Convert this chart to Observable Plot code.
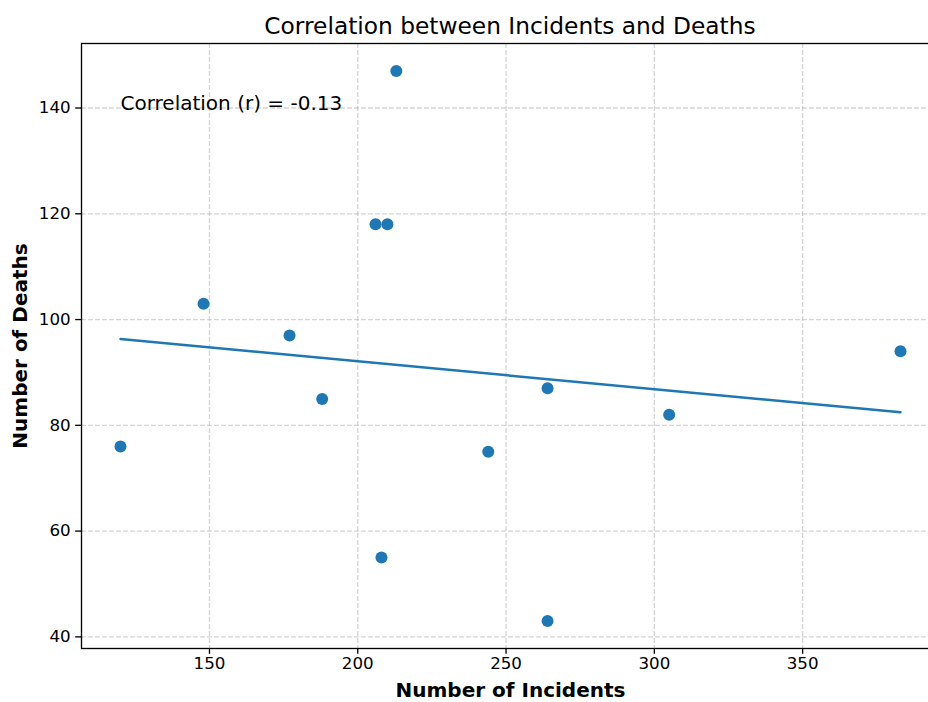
<!DOCTYPE html>
<html><head><meta charset="utf-8">
<script src="https://cdn.jsdelivr.net/npm/d3@7"></script>
<script src="https://cdn.jsdelivr.net/npm/@observablehq/plot@0.6"></script>
<style>
body{margin:0;background:#fff;overflow:hidden;font-family:"DejaVu Sans",sans-serif;}
#wrap{width:928px;height:702px;overflow:hidden;position:relative;}
#title{position:absolute;left:0;top:12px;width:1020px;line-height:28px;text-align:center;font-size:23.3px;color:#000;}
#chart{position:absolute;left:0;top:36px;width:939px;}
#chart svg{max-width:none !important;}
</style>
</head><body>
<div id="wrap"><div id="title">Correlation between Incidents and Deaths</div><div id="chart"></div></div>
<script>
const incidents = [120, 148, 177, 188, 206, 210, 213, 208, 244, 264, 264, 305, 383];
const deaths    = [76, 103, 97, 85, 118, 118, 147, 55, 75, 87, 43, 82, 94];
const xTicks = [150, 200, 250, 300, 350];
const yTicks = [40, 60, 80, 100, 120, 140];

const data = incidents.map((x, i) => ({x, y: deaths[i]}));
const mx = d3.mean(incidents), my = d3.mean(deaths);
let sxy = 0, sxx = 0, syy = 0;
data.forEach(d => { sxy += (d.x - mx) * (d.y - my); sxx += (d.x - mx) ** 2; syy += (d.y - my) ** 2; });
const corr = sxy / Math.sqrt(sxx * syy);
const corrLabel = `Correlation (r) = ${corr.toFixed(2)}`;

const xPad = (d3.max(incidents) - d3.min(incidents)) * 0.05;
const yPad = (d3.max(deaths) - d3.min(deaths)) * 0.05;

const gridStyle = {stroke: "#b0b0b0", strokeOpacity: 0.55, strokeDasharray: "4.9,2.1", strokeWidth: 1.3};

const chart = Plot.plot({
  width: 939,
  height: 666,
  marginTop: 7,
  marginBottom: 54,
  marginLeft: 81,
  marginRight: 0,
  style: {fontFamily: "DejaVu Sans", color: "black", background: "white"},
  x: {domain: [d3.min(incidents) - xPad, d3.max(incidents) + xPad]},
  y: {domain: [d3.min(deaths) - yPad, d3.max(deaths) + yPad]},
  marks: [
    Plot.gridX(xTicks, gridStyle),
    Plot.gridY(yTicks, gridStyle),
    Plot.dot(data, {x: "x", y: "y", r: 6, fill: "#1f77b4"}),
    Plot.linearRegressionY(data, {x: "x", y: "y", stroke: "#1f77b4", strokeWidth: 2.5, ci: 0}),
    Plot.frame({stroke: "black", strokeWidth: 1.33}),
    Plot.axisX(xTicks, {tickSize: 5.8, tickPadding: 3, fontSize: 16.7, label: null, strokeWidth: 1.33}),
    Plot.axisY(yTicks, {tickSize: 5.8, tickPadding: 5, fontSize: 16.7, label: null, strokeWidth: 1.33}),
    Plot.text(["Number of Incidents"], {text: d => d, frameAnchor: "bottom", dy: 42, lineAnchor: "middle", fontSize: 20, fontWeight: "bold"}),
    Plot.text(["Number of Deaths"], {text: d => d, frameAnchor: "left", dx: -61, rotate: -90, lineAnchor: "middle", textAnchor: "middle", fontSize: 20, fontWeight: "bold"}),
    Plot.text([corrLabel], {text: d => d, frameAnchor: "top-left", dx: 39, dy: 60, textAnchor: "start", lineAnchor: "middle", fontSize: 20})
  ]
});
document.getElementById("chart").appendChild(chart);
</script>
</body></html>
